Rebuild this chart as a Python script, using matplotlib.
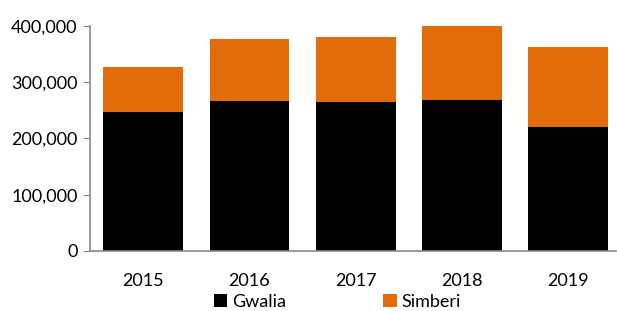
import matplotlib.pyplot as plt
from matplotlib.ticker import FuncFormatter

years = ["2015", "2016", "2017", "2018", "2019"]
gwalia = [247000, 267000, 264500, 268500, 220000]
simberi = [80000, 110000, 116500, 132000, 142000]

plt.rcParams["font.family"] = ["Lato", "DejaVu Sans"]

fig = plt.figure(figsize=(6.17, 3.11), dpi=100)
ax = fig.add_axes([0.146, 0.193, 0.8525, 0.724])

x = range(len(years))
ax.bar(x, gwalia, width=0.75, color="black", label="Gwalia")
ax.bar(x, simberi, width=0.75, bottom=gwalia, color="#E36C0A", label="Simberi")

ax.set_ylim(0, 400000)
ax.set_xlim(-0.5, 4.45)
ax.set_yticks([0, 100000, 200000, 300000, 400000])
ax.yaxis.set_major_formatter(FuncFormatter(lambda v, p: f"{int(v):,}"))
ax.set_xticks(list(x))
ax.set_xticklabels(years)

for s in ["top", "right"]:
    ax.spines[s].set_visible(False)
for s in ["left", "bottom"]:
    ax.spines[s].set_color("#888888")
    ax.spines[s].set_linewidth(1.2)

ax.tick_params(axis="y", colors="#888888", labelcolor="black", length=5, labelsize=13, pad=4)
ax.tick_params(axis="x", length=0, labelsize=13, pad=16)

ax.legend(loc="center", bbox_to_anchor=(0.47, -0.227), ncol=2, frameon=False,
          fontsize=13, handlelength=0.75, handleheight=0.75, handletextpad=0.25,
          columnspacing=5.4, borderaxespad=0, borderpad=0)

fig.savefig("out.png", dpi=100)
